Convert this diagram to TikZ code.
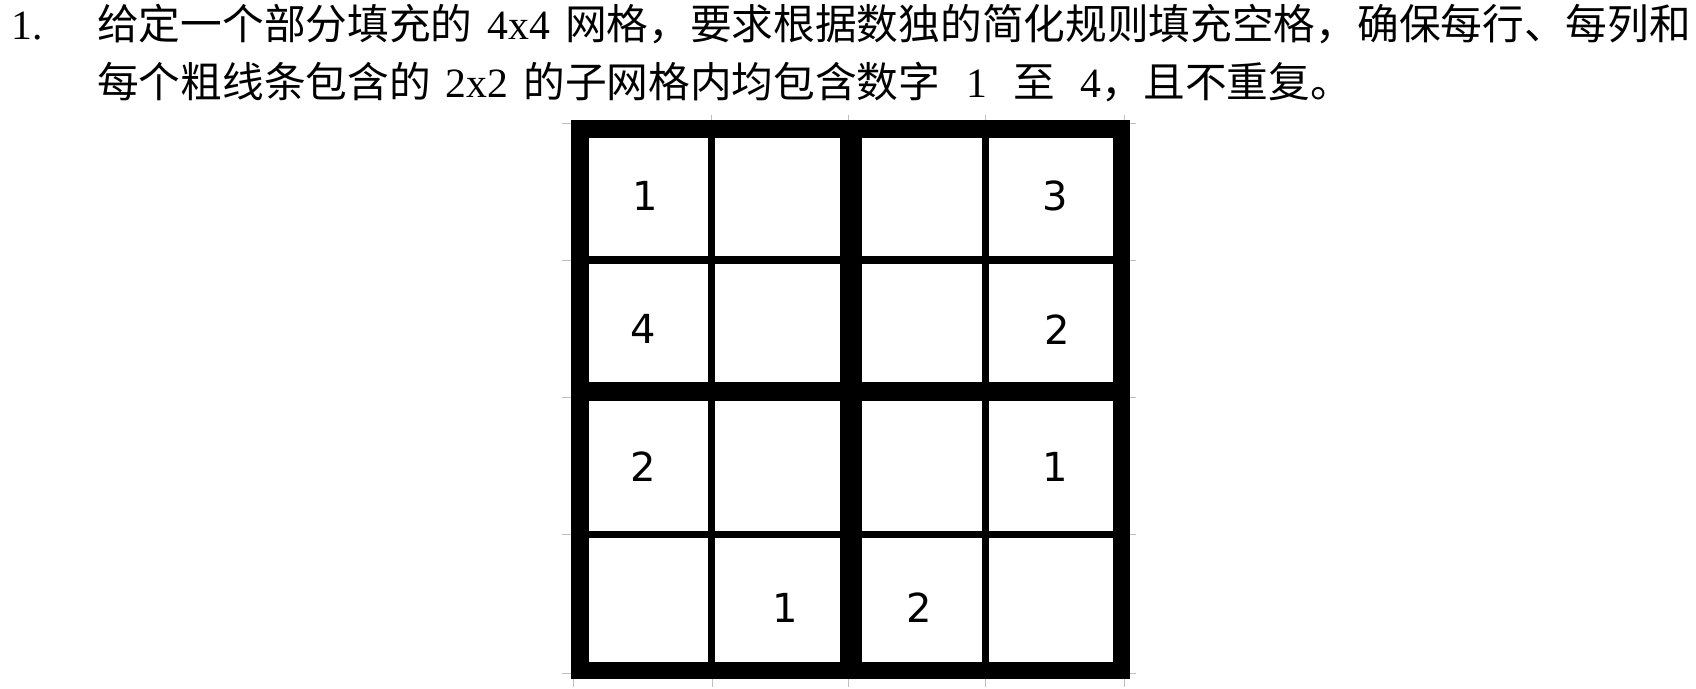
\documentclass[tikz,border=0pt]{standalone}
\usepackage{fontspec}
\setmainfont{Liberation Serif}
\newfontfamily\cjk{Noto Sans CJK SC}
\newfontfamily\digitfont{DejaVu Sans}
\newcommand{\gapA}{\hspace{15pt}}
\newcommand{\gapB}{\hspace{26pt}}
\begin{document}
\begin{tikzpicture}[x=1pt,y=-1pt,
  bar/.style={fill=black},
  tick/.style={draw=black!25,line width=1pt},
  digit/.style={font=\digitfont\fontsize{40}{40}\selectfont,inner sep=0pt,anchor=center},
  txt/.style={font=\fontsize{41.7}{41.7}\selectfont,inner sep=0pt,anchor=base west}]
\useasboundingbox[fill=white] (0,0) rectangle (1696,688);
% faint gridline ticks
\foreach \y in {123,260,397,534,673} {
  \draw[tick] (562,\y) -- (571,\y);
  \draw[tick] (1130,\y) -- (1136,\y);
}
\foreach \x in {573,712,848,985,1124} {
  \draw[tick] (\x,679) -- (\x,687);
}
\foreach \x in {711,848,985,1124} {
  \draw[tick] (\x,115) -- (\x,120);
}
% thin lines
\fill[bar] (708,120) rectangle (715,679);
\fill[bar] (982,120) rectangle (989,679);
\fill[bar] (571,256) rectangle (1130,264);
\fill[bar] (571,531) rectangle (1130,538);
% thick lines
\fill[bar] (571,120) rectangle (1130,138);
\fill[bar] (571,662) rectangle (1130,679);
\fill[bar] (571,120) rectangle (589,679);
\fill[bar] (1113,120) rectangle (1130,679);
\fill[bar] (840,120) rectangle (862,679);
\fill[bar] (571,382) rectangle (1130,401);
% digits
\node[digit] (r1c1) at (645,196) {1};
\node[digit] (r1c4) at (1055,196) {3};
\node[digit] (r2c1) at (643,329) {4};
\node[digit] (r2c4) at (1057,330) {2};
\node[digit] (r3c1) at (643,467) {2};
\node[digit] (r3c4) at (1055,467) {1};
\node[digit] (r4c2) at (785,608) {1};
\node[digit] (r4c3) at (919,608) {2};
% text
\node[txt] (num) at (11,39) {1.};
\node[txt] (line1) at (97,39) {{\cjk 给定一个部分填充的}\gapA 4x4\gapA{\cjk 网格，要求根据数独的简化规则填充空格，确保每行、每列和}};
\node[txt] (line2) at (97,97) {{\cjk 每个粗线条包含的}\gapA 2x2\gapA{\cjk 的子网格内均包含数字}\gapB 1\gapB{\cjk 至}\gapB 4{\cjk ，且不重复。}};
\end{tikzpicture}
\end{document}
